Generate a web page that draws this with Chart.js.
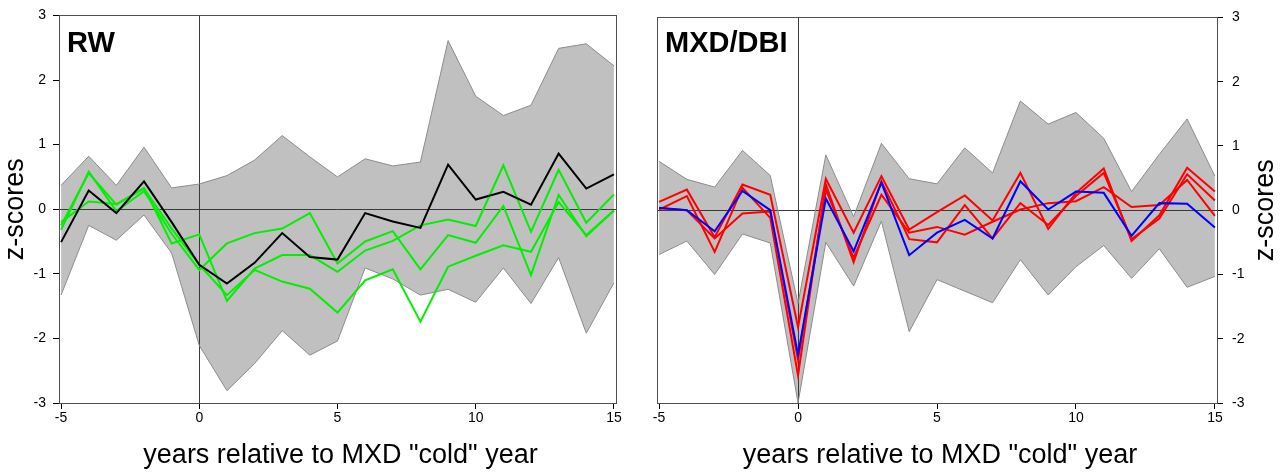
<!DOCTYPE html>
<html><head><meta charset="utf-8">
<script src="https://cdn.jsdelivr.net/npm/chart.js@4/dist/chart.umd.min.js"></script>
<style>
html,body{margin:0;padding:0;background:#fff;overflow:hidden}
#wrap{position:relative;width:1287px;height:475px;background:#fff}
canvas{position:absolute;top:0}
</style></head><body>
<div id="wrap">
<canvas id="c1" width="640" height="475" style="left:0px"></canvas>
<canvas id="c2" width="647" height="475" style="left:640px"></canvas>
</div>
<script>
// ---- data ----
const years = [-5,-4,-3,-2,-1,0,1,2,3,4,5,6,7,8,9,10,11,12,13,14,15];
const xTickValues = [-5,0,5,10,15];
const yTickValues = [-3,-2,-1,0,1,2,3];

// RW panel
const rwBandUpper = [0.37,0.82,0.37,0.96,0.33,0.39,0.52,0.76,1.14,0.81,0.50,0.78,0.67,0.73,2.61,1.75,1.45,1.61,2.49,2.56,2.22];
const rwBandLower = [-1.33,-0.25,-0.48,-0.09,-0.68,-2.11,-2.81,-2.39,-1.88,-2.26,-2.04,-0.91,-1.08,-1.33,-1.24,-1.44,-0.91,-1.46,-0.75,-1.92,-1.14];
const rwBlack = [-0.51,0.29,-0.06,0.43,-0.20,-0.86,-1.15,-0.83,-0.37,-0.74,-0.78,-0.06,-0.19,-0.29,0.69,0.15,0.27,0.07,0.86,0.32,0.54];
const rwGreen1 = [-0.25,0.56,0.07,0.33,-0.53,-0.39,-1.42,-0.92,-0.71,-0.71,-0.97,-0.64,-0.49,-0.25,-0.16,-0.26,0.68,-0.35,0.61,-0.21,0.23];
const rwGreen2 = [-0.32,0.58,-0.03,0.28,-0.38,-0.94,-0.53,-0.37,-0.30,-0.06,-0.84,-0.50,-0.34,-0.93,-0.40,-0.52,0.05,-1.02,0.22,-0.42,-0.02];
const rwGreen3 = [-0.20,0.12,0.08,0.32,-0.30,-0.86,-1.33,-0.94,-1.12,-1.23,-1.60,-1.10,-0.93,-1.74,-0.89,-0.72,-0.56,-0.66,0.11,-0.40,-0.02];

// MXD/DBI panel
const mxBandUpper = [0.76,0.48,0.36,0.93,0.54,-1.45,0.86,-0.10,1.04,0.49,0.41,0.97,0.58,1.70,1.34,1.52,1.12,0.29,0.87,1.42,0.53];
const mxBandLower = [-0.69,-0.48,-1.00,-0.37,-0.51,-3.00,-0.50,-1.18,-0.17,-1.89,-1.08,-1.26,-1.44,-0.77,-1.32,-0.88,-0.55,-1.06,-0.60,-1.20,-1.03];
const mxBlue = [0.04,0.00,-0.33,0.30,0.00,-2.25,0.18,-0.64,0.43,-0.70,-0.35,-0.15,-0.44,0.45,0.01,0.29,0.27,-0.40,0.11,0.10,-0.27];
const mxRed1 = [0.13,0.32,-0.42,0.40,0.24,-1.82,0.49,-0.35,0.53,-0.30,-0.03,0.23,-0.16,0.58,-0.29,0.27,0.65,-0.48,-0.08,0.66,0.29];
const mxRed2 = [0.01,0.22,-0.65,0.35,-0.12,-2.57,0.40,-0.81,0.45,-0.45,-0.50,0.08,-0.44,0.11,-0.23,0.22,0.58,-0.45,-0.13,0.56,0.15];
const mxRed3 = [0.03,0.00,-0.44,-0.05,-0.02,-2.33,0.32,-0.74,0.24,-0.35,-0.26,-0.38,-0.18,0.01,0.11,0.14,0.36,0.05,0.08,0.47,-0.09];

const xTitle = 'years relative to MXD "cold" year';
const yTitle = 'z-scores';

// ---- helpers ----
const FONT = '"Liberation Sans", Arial, sans-serif';
const pts = arr => arr.map((v,i)=>({x:years[i], y:v}));
const bandUp = d => ({data:pts(d), borderColor:'#8c8c8c', borderWidth:1, backgroundColor:'#c0c0c0', fill:'+1', order:20});
const bandLo = d => ({data:pts(d), borderColor:'#8c8c8c', borderWidth:1, fill:false, order:19});
const line = (d,c,o) => ({data:pts(d), borderColor:c, borderWidth:2, fill:false, order:o});

const decor = {
  id:'decor',
  beforeDatasetsDraw(chart){
    const {ctx, chartArea:a, scales:{x,y}} = chart;
    ctx.save();
    ctx.strokeStyle='#3a3a3a'; ctx.lineWidth=1;
    const y0 = Math.round(y.getPixelForValue(0))+0.5;
    const x0 = Math.round(x.getPixelForValue(0))+0.5;
    ctx.beginPath(); ctx.moveTo(a.left,y0); ctx.lineTo(a.right,y0); ctx.stroke();
    ctx.beginPath(); ctx.moveTo(x0,a.top); ctx.lineTo(x0,a.bottom); ctx.stroke();
    ctx.restore();
  },
  afterDraw(chart, args, opts){
    const {ctx, chartArea:a} = chart;
    ctx.save();
    ctx.strokeStyle='#505050'; ctx.lineWidth=1;
    ctx.strokeRect(Math.round(a.left)+0.5, Math.round(a.top)+0.5, Math.round(a.right-a.left), Math.round(a.bottom-a.top));
    ctx.fillStyle='#000';
    ctx.font = 'bold 29px ' + FONT;
    ctx.textAlign='left'; ctx.textBaseline='alphabetic';
    ctx.fillText(opts.label, a.left+8, 52);
    ctx.font = '27px ' + FONT;
    ctx.textAlign='center'; ctx.textBaseline='middle';
    ctx.fillText(xTitle, (a.left+a.right)/2 + 3, 456);
    ctx.save();
    ctx.translate(opts.yTitleX, (a.top+a.bottom)/2);
    ctx.rotate(-Math.PI/2);
    ctx.fillText(yTitle, 0, 0);
    ctx.restore();
    ctx.restore();
  }
};

function makeChart(id, datasets, side, label, padding, yTitleX){
  return new Chart(document.getElementById(id), {
    type:'line',
    data:{datasets},
    plugins:[decor],
    options:{
      responsive:false, animation:false, devicePixelRatio:1,
      layout:{padding},
      elements:{point:{radius:0}, line:{tension:0}},
      plugins:{legend:{display:false}, tooltip:{enabled:false}, filler:{drawTime:'beforeDatasetsDraw'},
        decor:{label, yTitleX}},
      scales:{
        x:{type:'linear', min:-5.075, max:15.075,
          afterBuildTicks:s=>{s.ticks = xTickValues.map(v=>({value:v}));},
          afterFit:s=>{s.height = 72;},
          border:{display:true,color:'#000',width:1},
          grid:{drawOnChartArea:false, drawTicks:true, tickLength:6, color:'#000'},
          ticks:{color:'#000', font:{family:FONT,size:14}, padding:1, maxRotation:0}
        },
        y:{type:'linear', position:side, min:-3, max:3,
          afterBuildTicks:s=>{s.ticks = yTickValues.map(v=>({value:v}));},
          afterFit:s=>{s.width = side==='left'?59:70;},
          border:{display:true,color:'#000',width:1},
          grid:{drawOnChartArea:false, drawTicks:true, tickLength:6, color:'#000'},
          ticks:{color:'#000', font:{family:FONT,size:14}, padding: side==='left'?7:9}
        }
      }
    }
  });
}

makeChart('c1', [
  bandUp(rwBandUpper), bandLo(rwBandLower),
  line(rwGreen1,'#00f000',5), line(rwGreen2,'#00f000',5), line(rwGreen3,'#00f000',5),
  line(rwBlack,'#000000',1)
], 'left', 'RW', {top:15, right:24, left:0, bottom:0}, 16);

makeChart('c2', [
  bandUp(mxBandUpper), bandLo(mxBandLower),
  line(mxRed1,'#ff0000',5), line(mxRed2,'#ff0000',5), line(mxRed3,'#ff0000',5),
  line(mxBlue,'#0000ff',1)
], 'right', 'MXD/DBI', {top:15, right:0, left:17, bottom:0}, 626);
</script>
</body></html>
